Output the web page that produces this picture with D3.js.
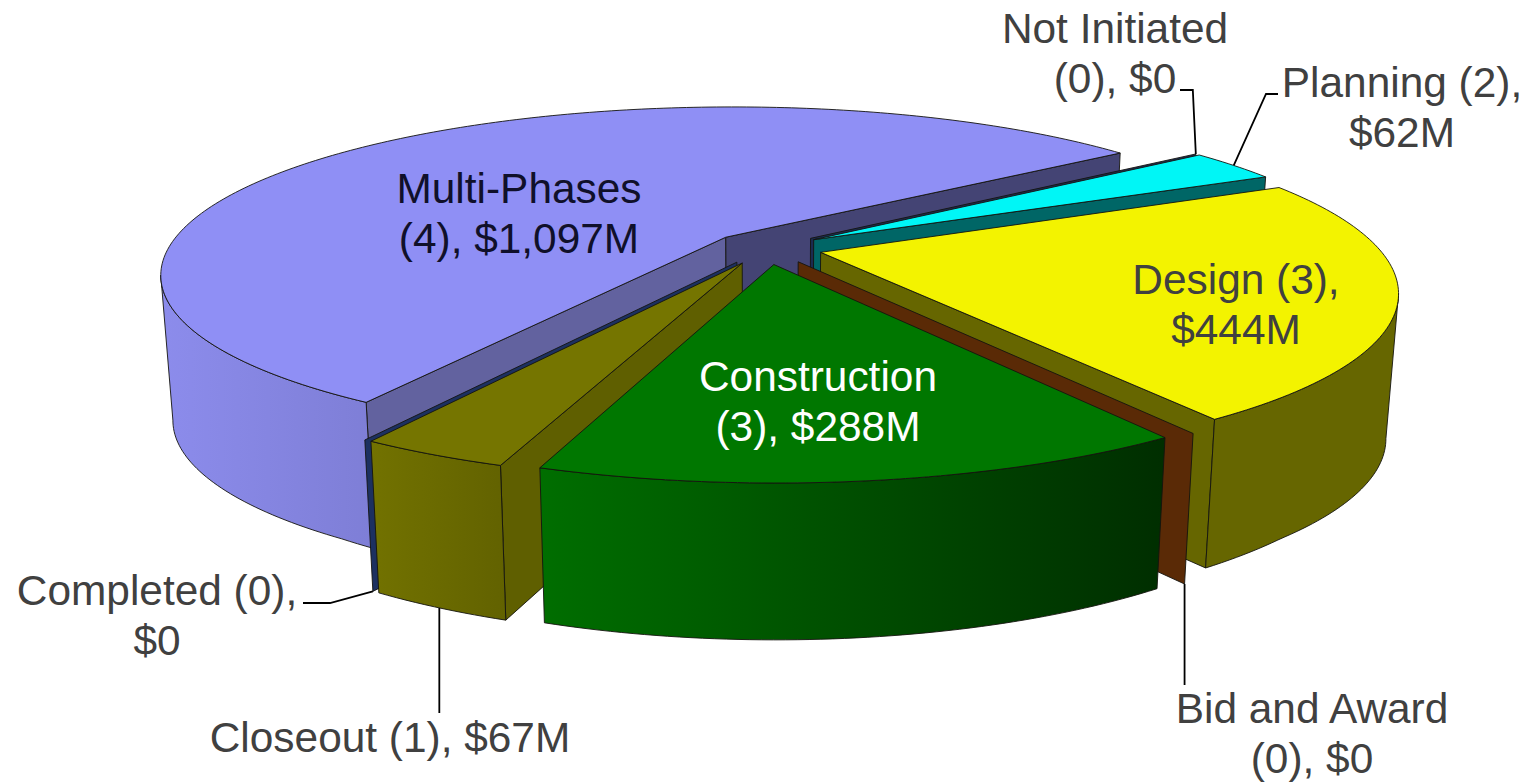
<!DOCTYPE html>
<html><head><meta charset="utf-8">
<script src="https://cdn.jsdelivr.net/npm/d3@7/dist/d3.min.js"></script>
<style>html,body{margin:0;padding:0;background:#fff;overflow:hidden}svg{display:block}</style>
</head><body><svg id="c" width="1529" height="782"></svg>
<script>
const categories = ["Not Initiated","Planning","Design","Bid and Award","Construction","Closeout","Completed","Multi-Phases"];
const counts = [0,2,3,0,3,1,0,4];
const values = [0,62,444,0,288,67,0,1097];
const topColors = ["#1c2b50","#00f6f6","#f3f300","#5a2a06","#007700","#757500","#1c3060","#8f8ff5"];
const wallA = ["#1c2b50","#006666","#666600","#5a2a06","#006e00","#727200","#1c3060","#8c8cec"];
const wallB = ["#1c2b50","#006666","#666600","#5a2a06","#002e00","#626200","#1c3060","#7e7ed6"];
const cutStart = ["#1c2b50","#006666","#666600","#5a2a06","#005500","#5f5f00","#1c3060","#62629f"];
const cutEnd = ["#1c2b50","#006666","#666600","#5a2a06","#005500","#5f5f00","#1c3060","#444474"];
const drawOrder = ["Multi-Phases","Not Initiated","Planning","Design","Bid and Award","Completed","Closeout","Construction"];
const labelLayout = [
 {t:["Not Initiated","(0), $0"],x:1115,y:[43,93],c:"#404040"},
 {t:["Planning (2),","$62M"],x:1402,y:[97,147],c:"#404040"},
 {t:["Design (3),","$444M"],x:1236,y:[294,344],c:"#404040"},
 {t:["Bid and Award","(0), $0"],x:1312,y:[723,773],c:"#404040"},
 {t:["Construction","(3), $288M"],x:818,y:[391,441],c:"#ffffff"},
 {t:["Closeout (1), $67M"],x:390,y:[752],c:"#404040"},
 {t:["Completed (0),","$0"],x:157,y:[605,655],c:"#404040"},
 {t:["Multi-Phases","(4), $1,097M"],x:519,y:[203,253],c:"#10102a"}
];
// projection of the pie plane (unit radius) to the page
const O=[766.5,248],A=558,B=162.8,Q=.217,EXPLODE=.1,START=53.1*Math.PI/180;
const conv=.02;
function proj(u,v,bottom){
  const w=1-Q*v;
  let X=A*u/w, Y=B*v/w;
  if(bottom){ X*=(1-conv); Y+=145+34*Math.max(v-.75,0); }
  return [O[0]+X,O[1]+Y];
}
const pie=d3.pie().sort(null).value(d=>d.value).startAngle(START).endAngle(START+2*Math.PI);
const arcs=pie(categories.map((c,i)=>({c,value:values[i],i})));
const svg=d3.select("#c"), defs=svg.append("defs");
const line=d3.line();
function grad(id,x1,x2,a,b){
  const g=defs.append("linearGradient").attr("id",id).attr("gradientUnits","userSpaceOnUse")
    .attr("x1",x1).attr("x2",x2).attr("y1",0).attr("y2",0);
  g.append("stop").attr("offset",0).attr("stop-color",a);
  g.append("stop").attr("offset",1).attr("stop-color",b);
  return `url(#${id})`;
}
function poly(pts,fill){
  svg.append("path").attr("d",line(pts)+"Z").attr("fill",fill).attr("stroke","#14140f").attr("stroke-width",.9).attr("stroke-linejoin","round");
}
const rimPoint={};
const byName=Object.fromEntries(arcs.map(a=>[a.data.c,a]));
drawOrder.forEach(name=>{
  const a=byName[name], i=a.data.i;
  const mid=(a.startAngle+a.endAngle)/2;
  const ox=EXPLODE*Math.sin(mid), oy=-EXPLODE*Math.cos(mid);
  const P=(th,r,b)=>proj(ox+r*Math.sin(th),oy-r*Math.cos(th),b);
  rimPoint[name]=P;
  const s=a.startAngle,e=a.endAngle, empty=e-s<1e-6;
  // cut faces, only those turned to the viewer
  if(empty || -Math.sin(s)>0) poly([P(s,0),P(s,1),P(s,1,true),P(s,0,true)],cutStart[i]);
  if(!empty && Math.sin(e)>0) poly([P(e,0),P(e,1),P(e,1,true),P(e,0,true)],cutEnd[i]);
  if(!empty){
    // outer wall runs between the rim's rightmost and leftmost points on the near side
    const a0=Math.max(s,Math.PI/2), a1=Math.min(e,3*Math.PI/2);
    if(a1>a0){
      const cand=d3.range(401).map(k=>a0+(a1-a0)*k/400);
      const lo=d3.greatest(cand,x=>P(x,1)[0]), hi=d3.least(cand,x=>P(x,1)[0]);
      const n=Math.ceil((hi-lo)*60), th=d3.range(n+1).map(k=>lo+(hi-lo)*k/n);
      const t=th.map(x=>P(x,1)), b=th.map(x=>P(x,1,true)).reverse();
      const xs=t.concat(b).map(p=>p[0]);
      poly(t.concat(b),grad("w"+i,d3.min(xs),d3.max(xs),wallA[i],wallB[i]));
    }
    const n=Math.max(8,Math.ceil((e-s)*60)), th=d3.range(n+1).map(k=>s+(e-s)*k/n);
    poly([P(s,0)].concat(th.map(x=>P(x,1))),topColors[i]);
  }
});
// leader lines
const lead=(pts)=>svg.append("path").attr("d",line(pts)).attr("fill","none").attr("stroke","#000").attr("stroke-width",1.8);
const rN=rimPoint["Not Initiated"](byName["Not Initiated"].startAngle,1);
lead([rN,[rN[0]-3,90],[1180,90]]);
const pm=byName["Planning"]; const rP=rimPoint["Planning"]((pm.startAngle+pm.endAngle)/2,1);
lead([rP,[1266,94],[1278,94]]);
const rC=rimPoint["Completed"](byName["Completed"].startAngle,1,true);
lead([rC,[330,603],[303,603]]);
const cm=byName["Closeout"]; const rL=rimPoint["Closeout"]((cm.startAngle+cm.endAngle)/2,1,true);
lead([rL,[rL[0],713]]);
const rB=rimPoint["Bid and Award"](byName["Bid and Award"].startAngle,1,true);
lead([rB,[rB[0],685]]);
// labels
labelLayout.forEach(l=>{
  l.t.forEach((s,k)=>svg.append("text").attr("x",l.x).attr("y",l.y[k]).attr("text-anchor","middle")
    .attr("font-family","'Liberation Sans',Arial,sans-serif").attr("font-size",42.4).attr("fill",l.c).text(s));
});
</script></body></html>
